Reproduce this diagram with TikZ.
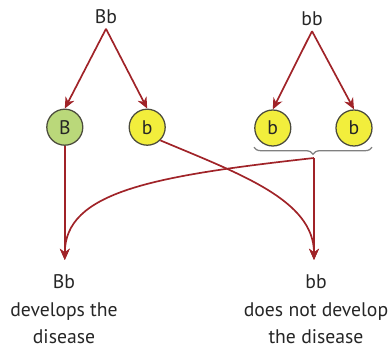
\documentclass[tikz,border=0pt]{standalone}
\usepackage{fontspec}
\setmainfont{PT Sans}
\usepackage{tikz}
\usetikzlibrary{arrows.meta,decorations.pathreplacing}
\definecolor{arrowred}{RGB}{160,35,40}
\definecolor{allelegreen}{RGB}{186,216,122}
\definecolor{alleleyellow}{RGB}{242,238,60}
\definecolor{rimgray}{RGB}{75,75,60}

\begin{document}
\begin{tikzpicture}[
  every node/.style={font=\fontsize{14}{19.5}\selectfont, text=black!85},
  allele/.style={circle, draw=rimgray, line width=0.9pt, minimum size=0.9cm, inner sep=0pt},
  msg/.style={-{Stealth[length=8pt,width=7pt]}, draw=arrowred, line width=1.2pt}
]
  \useasboundingbox (0,0) rectangle (9.7,-8.775);

  % Parent genotypes
  \node (par1) at (2.65, -0.42) {Bb};
  \node (par2) at (7.8, -0.48) {bb};

  % Gametes
  \node[allele, fill=allelegreen] (g1) at (1.62, -3.18) {B};
  \node[allele, fill=alleleyellow] (g2) at (3.68, -3.18) {b};
  \node[allele, fill=alleleyellow] (g3) at (6.82, -3.2) {b};
  \node[allele, fill=alleleyellow] (g4) at (8.85, -3.2) {b};

  % Brace under the bb gametes
  \draw[decorate, decoration={brace, mirror, amplitude=5pt}, draw=gray, line width=0.9pt]
    (6.35, -3.68) -- (9.3, -3.68);
  \coordinate (btip) at (7.85, -3.95);

  % Offspring
  \node[align=center, anchor=north] (kid1) at (1.6, -6.75) {Bb\\develops the\\disease};
  \node[align=center, anchor=north] (kid2) at (7.9, -6.75) {bb\\does not develop\\the disease};
  \coordinate (end1) at (1.62, -6.5);
  \coordinate (end2) at (7.85, -6.5);

  % Parent to gamete arrows
  \draw[msg] (par1.south) -- (g1.north);
  \draw[msg] (par1.south) -- (g2.north);
  \draw[msg] (par2.south) -- (g3.north);
  \draw[msg] (par2.south) -- (g4.north);

  % Gametes combine
  \draw[msg] (g1.south) -- (end1);
  \draw[msg] (btip) -- (end2);
  \draw[msg] (btip) .. controls (3.8, -4.4) and (1.62, -4.8) .. (end1);
  \draw[msg] (g2.south east) .. controls (6.0, -4.35) and (7.85, -5.0) .. (end2);
\end{tikzpicture}
\end{document}
